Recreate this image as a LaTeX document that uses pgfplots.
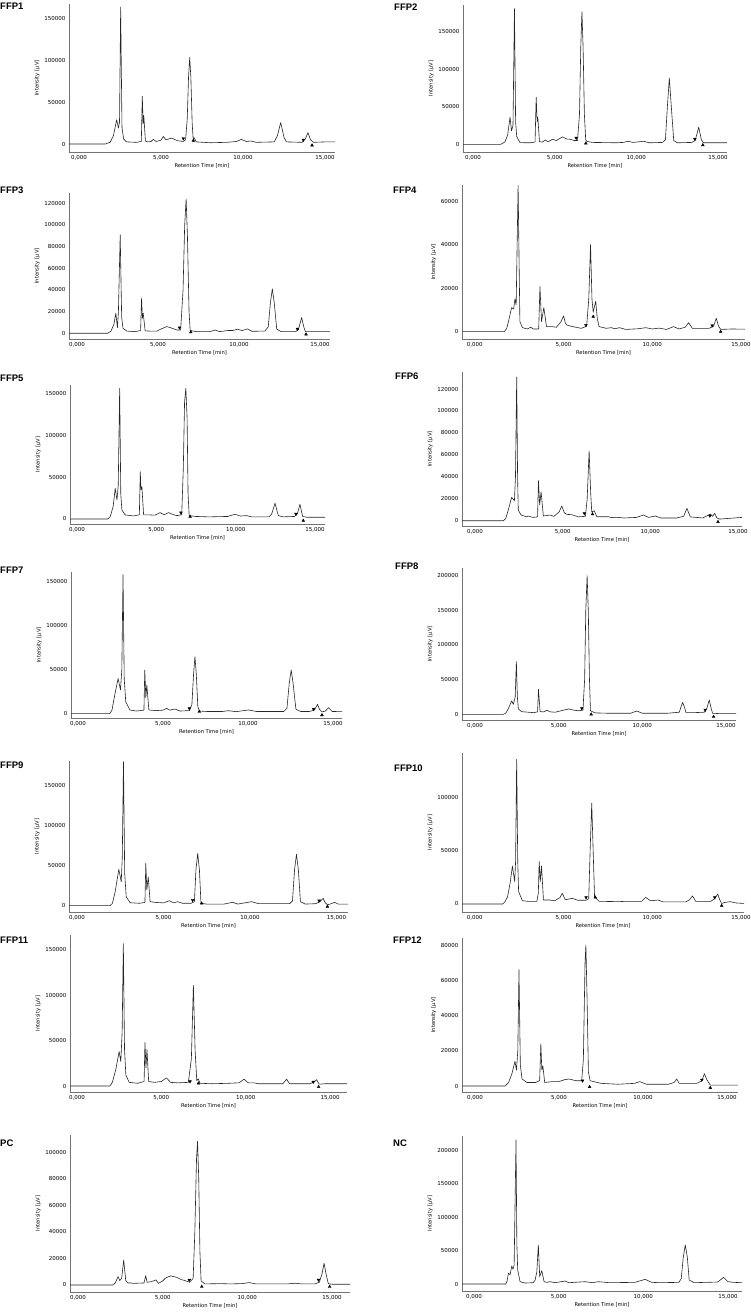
\documentclass[border=0pt]{standalone}
\usepackage{fontspec}
\setmainfont{DejaVu Sans}
\newfontfamily\titlefont{Liberation Sans}
\usepackage{pgfplots}
\pgfplotsset{compat=1.18}
\pgfplotsset{
 chrom/.style={
  scale only axis, anchor=south west,
  axis x line*=bottom, axis y line*=left,
  axis line style={-, draw=black!55, line width=0.5pt},
  major tick length=0pt,
  xtick={0,5,10,15},
  xticklabels={{0,000},{5,000},{10,000},{15,000}},
  tick label style={font=\fontsize{5.5}{6}\selectfont, text=black},
  label style={font=\fontsize{5.2}{6}\selectfont, text=black},
  xlabel={Retention Time [min]},
  ylabel={Intensity [µV]},
  xlabel style={yshift=4pt},
  ylabel style={yshift=-2pt},
  scaled y ticks=false,
 },
 trace/.style={black!85, line width=0.6pt, line join=round},
 dn/.style={only marks, mark=triangle*, mark size=1.6pt, mark options={rotate=180, fill=black, draw=black}},
 up/.style={only marks, mark=triangle*, mark size=1.6pt, mark options={fill=black, draw=black}},
}
\begin{document}
\begin{tikzpicture}[x=1pt,y=1pt]
\path[use as bounding box] (0pt,0pt) rectangle (750pt,1312pt);
\tikzset{ttl/.style={anchor=west, inner sep=0pt, font=\titlefont\bfseries\fontsize{9.5}{10}\selectfont}}
\node[ttl] at (0pt,1306pt) {FFP1};
\node[ttl] at (394pt,1305pt) {FFP2};
\node[ttl] at (0pt,1122pt) {FFP3};
\node[ttl] at (393pt,1122pt) {FFP4};
\node[ttl] at (0pt,934pt) {FFP5};
\node[ttl] at (395pt,936pt) {FFP6};
\node[ttl] at (0pt,742pt) {FFP7};
\node[ttl] at (395pt,746pt) {FFP8};
\node[ttl] at (0pt,547pt) {FFP9};
\node[ttl] at (394pt,544pt) {FFP10};
\node[ttl] at (0pt,372pt) {FFP11};
\node[ttl] at (393pt,372pt) {FFP12};
\node[ttl] at (0pt,169pt) {PC};
\node[ttl] at (393pt,169pt) {NC};

% FFP1
\begin{axis}[chrom, at={(69pt,1160pt)}, width=266pt, height=148pt, xmin=-0.61, xmax=15.61, ymin=-9500, ymax=166700, ytick={0,50000,100000,150000}, yticklabels={0,50000,100000,150000}]
\addplot[trace] coordinates {(-0.61,0)(1.6,0)(1.9,2000)(2.1,10000)(2.3,29000)(2.4,19000)(2.47,26000)(2.54,163000)(2.62,20000)(2.72,6000)(2.9,2500)(3.5,2000)(3.8,3000)(3.86,57000)(3.91,24000)(3.95,34000)(4.05,3500)(4.2,2500)(4.4,3000)(4.53,5500)(4.7,3000)(5.0,4500)(5.14,9000)(5.3,5000)(5.65,7000)(6.0,4000)(6.35,3000)(6.5,5000)(6.6,30000)(6.68,80000)(6.75,103000)(6.82,80000)(6.9,25000)(6.96,6000)(7.02,7500)(7.15,2500)(8,1500)(9,2000)(9.6,3000)(9.9,5500)(10.2,3000)(10.5,3600)(10.8,2000)(11.9,2500)(12.1,10000)(12.3,25500)(12.5,8000)(12.65,2500)(13.6,2000)(13.8,6000)(13.96,13500)(14.12,5000)(14.3,2000)(15,2500)(15.61,2500)};
\addplot[dn] coordinates {(6.36,6500)(13.68,5000)};
\addplot[up] coordinates {(6.97,4000)(14.21,-1500)};
\end{axis}

% FFP2
\begin{axis}[chrom, at={(463pt,1160pt)}, width=264pt, height=147pt, xmin=-0.61, xmax=15.55, ymin=-10200, ymax=185000, ytick={0,50000,100000,150000}, yticklabels={0,50000,100000,150000}]
\addplot[trace] coordinates {(-0.61,0)(1.7,0)(1.95,3000)(2.12,12000)(2.27,36000)(2.36,18000)(2.45,25000)(2.54,180000)(2.61,30000)(2.68,10000)(2.88,2200)(3.5,2000)(3.8,3000)(3.87,62500)(3.93,30000)(3.97,36000)(4.07,3500)(4.25,3000)(4.42,5800)(4.6,3500)(4.87,6700)(5.1,5000)(5.48,9800)(5.75,7000)(5.95,6700)(6.2,5000)(6.4,5000)(6.52,40000)(6.6,130000)(6.67,176000)(6.74,130000)(6.82,40000)(6.9,6000)(6.97,4000)(7.3,2500)(8.3,2200)(8.7,2000)(9.2,2500)(9.5,4000)(9.8,2500)(10.45,4000)(10.8,2000)(11.6,2500)(11.78,6000)(11.9,50000)(12.02,88000)(12.14,50000)(12.29,5000)(12.5,2000)(13.4,2500)(13.6,5000)(13.82,22600)(13.98,6000)(14.1,2000)(15,2000)(15.55,2000)};
\addplot[dn] coordinates {(6.32,8400)(13.58,7000)};
\addplot[up] coordinates {(6.91,1300)(14.07,-1000)};
\end{axis}

% FFP3
\begin{axis}[chrom, at={(69pt,973pt)}, width=261pt, height=146pt, xmin=-0.49, xmax=15.62, ymin=-5300, ymax=129500, ytick={0,20000,40000,60000,80000,100000,120000}, yticklabels={0,20000,40000,60000,80000,100000,120000}]
\addplot[trace] coordinates {(-0.49,0)(1.9,0)(2.1,2000)(2.28,8000)(2.4,18500)(2.5,5200)(2.56,20000)(2.67,91000)(2.76,15000)(2.84,4600)(3.08,2000)(3.6,1500)(3.93,2500)(3.99,32300)(4.04,13800)(4.09,18500)(4.21,2200)(4.5,2000)(4.93,2000)(5.2,4000)(5.55,6200)(5.9,4500)(6.16,3000)(6.4,3000)(6.55,40000)(6.65,100000)(6.74,124000)(6.82,90000)(6.92,20000)(6.99,2500)(7.4,1500)(8.2,1500)(8.53,3000)(8.8,1500)(9.3,2500)(9.6,2500)(9.9,3700)(10.2,2500)(10.52,4000)(10.8,1800)(11.6,2000)(11.81,6000)(11.94,28000)(12.06,41000)(12.18,28000)(12.33,4000)(12.6,1500)(13.5,1500)(13.67,3500)(13.87,14500)(14.0,6000)(14.1,1500)(15,1500)(15.62,1500)};
\addplot[dn] coordinates {(6.33,5200)(13.61,4000)};
\addplot[up] coordinates {(7.03,1000)(14.14,-1000)};
\end{axis}

% FFP4
\begin{axis}[chrom, at={(462pt,973pt)}, width=283pt, height=154pt, xmin=-0.72, xmax=15.22, ymin=-3400, ymax=67400, ytick={0,20000,40000,60000}, yticklabels={0,20000,40000,60000}]
\addplot[trace] coordinates {(-0.72,0)(1.67,0)(1.8,1500)(1.94,6100)(2.07,11000)(2.19,10400)(2.26,15000)(2.33,12200)(2.44,67300)(2.54,4600)(2.69,1800)(2.96,1200)(3.15,2000)(3.3,1200)(3.6,1200)(3.67,20700)(3.76,4600)(3.89,11000)(4.04,2300)(4.35,2300)(4.6,2000)(4.85,4500)(5.0,7200)(5.1,4000)(5.19,3000)(5.5,2300)(6.0,1500)(6.3,2500)(6.42,15000)(6.52,40000)(6.6,15000)(6.67,8900)(6.81,14000)(6.9,6000)(7.0,2300)(7.4,1500)(7.69,1800)(7.9,1300)(8.15,1800)(8.5,1000)(9.2,1300)(9.63,1800)(10.0,1200)(10.37,1600)(10.8,1000)(11.2,2300)(11.5,1200)(11.85,2000)(12.04,4100)(12.25,1500)(13.2,1500)(13.45,2500)(13.6,6100)(13.73,2500)(13.85,1000)(14.5,1200)(15.22,1100)};
\addplot[dn] coordinates {(6.26,3000)(13.37,2800)};
\addplot[up] coordinates {(6.67,6900)(13.85,0)};
\end{axis}

% FFP5
\begin{axis}[chrom, at={(70pt,788pt)}, width=255pt, height=139pt, xmin=-0.44, xmax=15.63, ymin=-6000, ymax=160000, ytick={0,50000,100000,150000}, yticklabels={0,50000,100000,150000}]
\addplot[trace] coordinates {(-0.44,0)(1.95,0)(2.1,3000)(2.28,15000)(2.41,36600)(2.52,22700)(2.6,40000)(2.69,156000)(2.76,30000)(2.83,10700)(3.04,4800)(3.57,3600)(3.93,5000)(3.99,56500)(4.03,34600)(4.09,38600)(4.2,4800)(4.62,4800)(4.9,4500)(5.24,7600)(5.5,5000)(5.77,7600)(6.1,5000)(6.29,4000)(6.6,5000)(6.7,60000)(6.78,140000)(6.86,156000)(6.94,120000)(7.0,30000)(7.07,4000)(7.5,3000)(8.3,2500)(9.5,3000)(9.96,5600)(10.3,3500)(10.7,4000)(11.0,2500)(12.1,2500)(12.27,6000)(12.48,18700)(12.69,4000)(13.0,2500)(13.7,3000)(13.89,6000)(14.05,17500)(14.22,3000)(14.5,2000)(15.63,2000)};
\addplot[dn] coordinates {(6.55,7600)(13.8,6000)};
\addplot[up] coordinates {(7.13,2800)(14.26,-2000)};
\end{axis}

% FFP6
\begin{axis}[chrom, at={(462pt,786pt)}, width=280pt, height=154pt, xmin=-0.74, xmax=15.23, ymin=-4800, ymax=135500, ytick={0,20000,40000,60000,80000,100000,120000}, yticklabels={0,20000,40000,60000,80000,100000,120000}]
\addplot[trace] coordinates {(-0.74,0)(1.62,0)(1.75,2000)(1.9,9700)(2.09,21300)(2.25,18200)(2.31,40000)(2.38,131000)(2.43,40000)(2.47,9700)(2.63,5200)(2.95,3600)(3.05,4300)(3.3,3000)(3.57,3500)(3.62,36500)(3.69,14300)(3.77,26400)(3.9,4300)(4.28,5200)(4.5,4000)(4.8,8000)(4.95,13400)(5.1,7000)(5.24,5800)(5.52,5500)(5.9,3500)(6.3,4000)(6.4,20000)(6.51,63800)(6.6,25000)(6.66,8000)(6.8,9100)(6.95,3600)(7.61,3600)(7.8,2800)(8.03,3200)(8.5,2500)(9.2,3000)(9.61,5200)(9.9,3000)(10.28,4300)(10.6,2500)(11.5,2500)(11.9,4000)(12.09,11200)(12.28,3500)(13.0,2500)(13.42,6000)(13.55,4000)(13.67,6700)(13.8,2500)(13.95,1500)(14.8,2500)(15.23,3000)};
\addplot[dn] coordinates {(6.24,6700)(13.4,4500)};
\addplot[up] coordinates {(6.7,6000)(13.86,-1000)};
\end{axis}

% FFP7
\begin{axis}[chrom, at={(71pt,594pt)}, width=271pt, height=146pt, xmin=-0.41, xmax=15.53, ymin=-4900, ymax=161000, ytick={0,50000,100000,150000}, yticklabels={0,50000,100000,150000}]
\addplot[trace] coordinates {(-0.41,0)(1.87,0)(2.0,4000)(2.16,21000)(2.36,40000)(2.5,27000)(2.58,50000)(2.65,158000)(2.72,40000)(2.81,13600)(3.05,4200)(3.44,3000)(3.88,4000)(3.93,49600)(3.99,18200)(4.05,32600)(4.17,4200)(4.6,3500)(5.0,4000)(5.21,6000)(5.4,4000)(5.7,5300)(6.0,3000)(6.55,3500)(6.7,10000)(6.8,45000)(6.88,64800)(6.96,45000)(7.05,8000)(7.14,3000)(7.6,2500)(8.5,2500)(8.85,3400)(9.3,2300)(10.03,4200)(10.5,2500)(12.1,2500)(12.29,6000)(12.43,35000)(12.54,49600)(12.65,35000)(12.82,5000)(13.1,2500)(13.6,2500)(13.9,4000)(14.09,10600)(14.2,5000)(14.35,2000)(14.55,3000)(14.74,6800)(14.95,2500)(15.53,2300)};
\addplot[dn] coordinates {(6.55,6000)(13.86,5300)};
\addplot[up] coordinates {(7.14,2300)(14.35,-1500)};
\end{axis}

% FFP8
\begin{axis}[chrom, at={(462pt,592pt)}, width=274pt, height=152pt, xmin=-0.78, xmax=15.6, ymin=-8200, ymax=211000, ytick={0,50000,100000,150000,200000}, yticklabels={0,50000,100000,150000,200000}]
\addplot[trace] coordinates {(-0.78,0)(1.7,0)(1.85,2000)(2.0,8700)(2.19,19200)(2.29,14400)(2.4,25000)(2.47,76000)(2.53,25000)(2.59,7700)(2.79,3800)(3.5,2400)(3.74,3500)(3.79,36000)(3.89,3800)(4.1,3500)(4.29,5800)(4.5,3500)(4.8,3000)(5.2,5500)(5.59,7700)(5.9,6000)(6.2,5000)(6.45,6000)(6.55,50000)(6.62,150000)(6.7,200000)(6.77,150000)(6.84,50000)(6.9,5000)(7.2,2000)(8,1500)(9.3,1500)(9.67,4800)(10.0,1500)(11.5,1500)(12.21,3000)(12.3,10000)(12.41,17300)(12.52,10000)(12.61,2500)(13.2,2500)(13.7,3000)(13.85,8000)(14.0,20700)(14.12,8000)(14.2,1500)(14.6,1000)(15.6,1000)};
\addplot[dn] coordinates {(6.38,8700)(13.76,6300)};
\addplot[up] coordinates {(6.94,0)(14.26,-3400)};
\end{axis}

% FFP9
\begin{axis}[chrom, at={(69pt,400pt)}, width=279pt, height=151pt, xmin=-0.46, xmax=15.67, ymin=-7900, ymax=181000, ytick={0,50000,100000,150000}, yticklabels={0,50000,100000,150000}]
\addplot[trace] coordinates {(-0.46,0)(1.92,0)(2.05,3000)(2.21,17500)(2.42,45400)(2.56,30000)(2.62,60000)(2.69,180000)(2.76,40000)(2.85,11000)(3.08,3700)(3.6,3000)(3.93,4000)(3.98,52900)(4.04,19600)(4.12,36000)(4.23,5000)(4.6,4000)(5.0,3500)(5.35,6200)(5.6,3500)(5.81,5000)(6.1,3000)(6.6,3000)(6.79,5000)(6.88,45000)(6.98,65400)(7.08,45000)(7.17,3000)(7.5,2000)(8.5,2000)(9.0,4200)(9.3,2000)(10.1,5000)(10.5,2500)(12.3,2500)(12.46,6000)(12.58,45000)(12.69,64200)(12.8,45000)(12.92,5000)(13.2,2000)(13.8,2500)(14.05,5000)(14.23,9200)(14.35,4000)(14.48,1000)(14.7,2500)(14.9,4200)(15.1,2000)(15.67,2000)};
\addplot[dn] coordinates {(6.69,7000)(14.0,6200)};
\addplot[up] coordinates {(7.21,2900)(14.48,-1200)};
\end{axis}

% FFP10
\begin{axis}[chrom, at={(462pt,400pt)}, width=282pt, height=159pt, xmin=-0.72, xmax=15.17, ymin=-7500, ymax=141500, ytick={0,50000,100000}, yticklabels={0,50000,100000}]
\addplot[trace] coordinates {(-0.72,0)(1.57,0)(1.7,2000)(1.85,6900)(1.99,19400)(2.12,35600)(2.25,21000)(2.3,40000)(2.36,135600)(2.42,40000)(2.47,11600)(2.68,3100)(3.0,2500)(3.5,2500)(3.58,10000)(3.63,39700)(3.69,21000)(3.76,35600)(3.87,3700)(4.24,3700)(4.5,3000)(4.8,6000)(4.93,10000)(5.1,4000)(5.5,5300)(5.8,3500)(6.27,3500)(6.42,5000)(6.5,50000)(6.59,94400)(6.67,50000)(6.75,6000)(6.79,6200)(7.0,2500)(8.12,2200)(8.5,2500)(9.4,2500)(9.63,6200)(9.9,3000)(10.33,3700)(10.6,2000)(11.9,2000)(12.1,4000)(12.27,7500)(12.45,2500)(13.3,2500)(13.52,5000)(13.69,9400)(13.8,4000)(13.91,500)(14.1,1500)(14.39,2200)(14.7,1000)(15.17,500)};
\addplot[dn] coordinates {(6.27,6200)(13.52,6200)};
\addplot[up] coordinates {(6.79,6200)(13.91,-1600)};
\end{axis}

% FFP11
\begin{axis}[chrom, at={(70pt,220pt)}, width=277pt, height=157pt, xmin=-0.41, xmax=16.0, ymin=-6600, ymax=166500, ytick={0,50000,100000,150000}, yticklabels={0,50000,100000,150000}]
\addplot[trace] coordinates {(-0.41,0)(1.95,0)(2.1,4000)(2.3,18000)(2.5,38000)(2.6,27000)(2.68,60000)(2.75,157000)(2.82,40000)(2.9,12000)(3.1,4000)(3.6,3000)(3.98,5000)(4.03,48000)(4.09,20000)(4.15,40000)(4.25,5000)(4.6,4000)(5.0,5000)(5.3,9000)(5.55,4000)(6.0,3500)(6.6,4000)(6.78,30000)(6.9,111000)(7.0,40000)(7.1,6000)(7.18,8000)(7.3,3000)(8.0,2500)(9.0,3000)(9.6,3500)(9.9,7500)(10.15,3500)(10.5,3500)(10.75,2500)(12.2,2500)(12.42,7500)(12.6,2500)(13.8,2500)(14.05,4500)(14.2,7000)(14.35,2000)(14.7,2500)(16.0,2500)};
\addplot[dn] coordinates {(6.7,5000)(14.0,4500)};
\addplot[up] coordinates {(7.2,3000)(14.32,-1000)};
\end{axis}

% FFP12
\begin{axis}[chrom, at={(462pt,220pt)}, width=276pt, height=154pt, xmin=-0.77, xmax=15.65, ymin=-3400, ymax=84000, ytick={0,20000,40000,60000,80000}, yticklabels={0,20000,40000,60000,80000}]
\addplot[trace] coordinates {(-0.77,0)(1.8,0)(2.0,2000)(2.2,7000)(2.38,14000)(2.47,9000)(2.55,20000)(2.62,66000)(2.7,12000)(2.8,4000)(3.1,2000)(3.6,2000)(3.85,3000)(3.92,24000)(3.98,9000)(4.04,11500)(4.15,2000)(4.6,2500)(5.0,2500)(5.3,3500)(5.6,4000)(6.0,3000)(6.35,3000)(6.45,15000)(6.55,70000)(6.6,80000)(6.67,50000)(6.75,8000)(6.85,3000)(7.5,1500)(8.5,1000)(9.5,1500)(9.8,2500)(10.2,1000)(11.5,1000)(11.85,2000)(12.0,4000)(12.15,1500)(13.2,1500)(13.5,3000)(13.65,7000)(13.8,3500)(14.0,500)(15.65,500)};
\addplot[dn] coordinates {(6.4,3000)(13.5,3500)};
\addplot[up] coordinates {(6.82,-500)(14.0,-1000)};
\end{axis}

% PC
\begin{axis}[chrom, at={(70pt,20pt)}, width=280pt, height=157pt, xmin=-0.47, xmax=16.06, ymin=-5300, ymax=112800, ytick={0,20000,40000,60000,80000,100000}, yticklabels={0,20000,40000,60000,80000,100000}]
\addplot[trace] coordinates {(-0.47,0)(2.07,0)(2.2,1500)(2.37,6300)(2.47,3300)(2.58,5000)(2.7,18800)(2.82,3300)(2.95,1500)(3.1,1500)(3.26,1200)(3.9,1500)(4.0,7000)(4.08,2000)(4.34,2500)(4.6,3800)(4.75,1200)(5.0,3000)(5.2,5500)(5.47,6800)(5.82,5800)(6.1,4000)(6.32,3300)(6.6,2000)(6.8,5000)(6.9,40000)(7.0,95000)(7.06,108000)(7.13,80000)(7.2,25000)(7.27,3000)(7.5,800)(8.4,1000)(9.0,800)(9.7,1000)(10.1,1800)(10.5,800)(12.4,800)(12.8,1300)(13.2,800)(14.0,800)(14.25,2000)(14.4,8000)(14.53,16300)(14.65,8000)(14.78,1000)(15.0,500)(16.06,500)};
\addplot[dn] coordinates {(6.57,3800)(14.2,3800)};
\addplot[up] coordinates {(7.31,-1300)(14.86,-1300)};
\end{axis}

% NC
\begin{axis}[chrom, at={(462pt,21pt)}, width=280pt, height=155pt, xmin=-0.71, xmax=15.83, ymin=-10400, ymax=221000, ytick={0,50000,100000,150000,200000}, yticklabels={0,50000,100000,150000,200000}]
\addplot[trace] coordinates {(-0.71,0)(1.87,0)(1.95,4000)(2.03,16000)(2.13,14000)(2.23,27000)(2.3,22000)(2.37,28000)(2.48,215000)(2.53,60000)(2.58,21000)(2.72,3500)(3.0,1500)(3.5,2000)(3.61,6000)(3.71,18400)(3.8,58200)(3.88,11000)(4.0,20000)(4.14,3500)(4.3,2500)(4.49,3500)(4.8,2000)(5.38,4500)(5.6,2000)(6.56,3500)(7.0,2000)(7.35,3500)(8.0,2000)(9.5,2500)(10.11,7000)(10.5,2500)(11.0,2000)(12.1,2500)(12.24,8000)(12.36,40000)(12.48,58200)(12.6,40000)(12.71,6000)(13.0,2000)(14.4,3000)(14.74,10000)(15.0,3500)(15.34,2500)(15.83,2000)};
\end{axis}
\end{tikzpicture}
\end{document}
